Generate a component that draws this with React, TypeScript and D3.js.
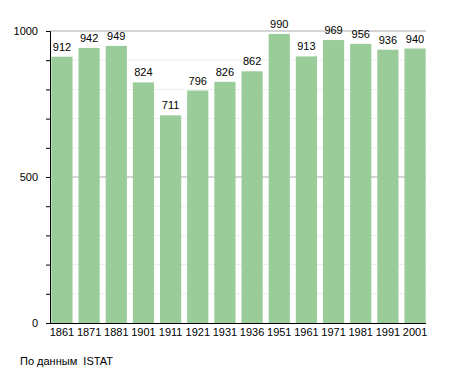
import React, { useRef, useEffect } from "react";
import * as d3 from "d3";

const years = ["1861", "1871", "1881", "1901", "1911", "1921", "1931", "1936", "1951", "1961", "1971", "1981", "1991", "2001"];
const population = [912, 942, 949, 824, 711, 796, 826, 862, 990, 913, 969, 956, 936, 940];
const majorTicks = [0, 500, 1000];
const minorTicks = [100, 200, 300, 400, 600, 700, 800, 900];

function App() {
  const svgRef = useRef<SVGSVGElement | null>(null);

  useEffect(() => {
    const svg = d3.select(svgRef.current);
    svg.selectAll("*").remove();
    const font = "Liberation Sans, Arial, sans-serif";

    const x = d3.scaleBand().domain(years).range([50, 427]).paddingInner(0.22).paddingOuter(0.05);
    const y = d3.scaleLinear().domain([0, 1000]).range([323, 31]);

    // minor grid
    svg.append("g")
      .selectAll("line")
      .data(minorTicks)
      .enter()
      .append("line")
      .attr("x1", 50).attr("x2", 426)
      .attr("y1", (d) => y(d)).attr("y2", (d) => y(d))
      .attr("stroke", "#eeeeee");

    // major grid
    svg.append("g")
      .selectAll("line")
      .data([500, 1000])
      .enter()
      .append("line")
      .attr("x1", 50).attr("x2", 426)
      .attr("y1", (d) => y(d)).attr("y2", (d) => y(d))
      .attr("stroke", "#aaaaaa");

    const data = years.map((year, i) => ({ year, value: population[i] }));

    svg.append("g")
      .selectAll("rect")
      .data(data)
      .enter()
      .append("rect")
      .attr("x", (d) => x(d.year)!)
      .attr("y", (d) => y(d.value))
      .attr("width", x.bandwidth())
      .attr("height", (d) => y(0) - y(d.value))
      .attr("fill", "#99cc99");

    svg.append("g")
      .selectAll("text")
      .data(data)
      .enter()
      .append("text")
      .attr("x", (d) => x(d.year)! + x.bandwidth() / 2)
      .attr("y", (d) => y(d.value) - 6)
      .attr("text-anchor", "middle")
      .style("font-family", font)
      .style("font-size", "11px")
      .text((d) => d.value);

    // left axis
    const yAxis = d3.axisLeft(y).tickValues(d3.range(0, 1001, 100)).tickSize(4).tickFormat(() => "");
    svg.append("g").attr("transform", "translate(50,0)").call(yAxis)
      .call((g) => g.select(".domain").attr("stroke", "#000"));

    svg.append("g")
      .selectAll("text")
      .data(majorTicks)
      .enter()
      .append("text")
      .attr("x", 38)
      .attr("y", (d) => y(d) + 4)
      .attr("text-anchor", "end")
      .style("font-family", font)
      .style("font-size", "11px")
      .text((d) => d);

    // bottom axis
    const xAxis = d3.axisBottom(x).tickSize(0).tickPadding(5);
    svg.append("g").attr("transform", "translate(0,323)").call(xAxis)
      .call((g) => {
        g.select(".domain").remove();
        g.selectAll("text").style("font-family", font).style("font-size", "11px").attr("fill", "#000");
      });
    svg.append("line")
      .attr("x1", 50).attr("x2", 426)
      .attr("y1", 323.5).attr("y2", 323.5)
      .attr("stroke", "#000");

    svg.append("text")
      .attr("x", 20)
      .attr("y", 365)
      .style("font-family", font)
      .style("font-size", "11px")
      .attr("xml:space", "preserve")
      .style("white-space", "pre")
      .text("По данным  ISTAT");
  }, []);

  return (
    <svg ref={svgRef} width={455} height={373} style={{ position: "absolute", left: 0, top: 0, background: "#fff" }}></svg>
  );
}

export default App;
